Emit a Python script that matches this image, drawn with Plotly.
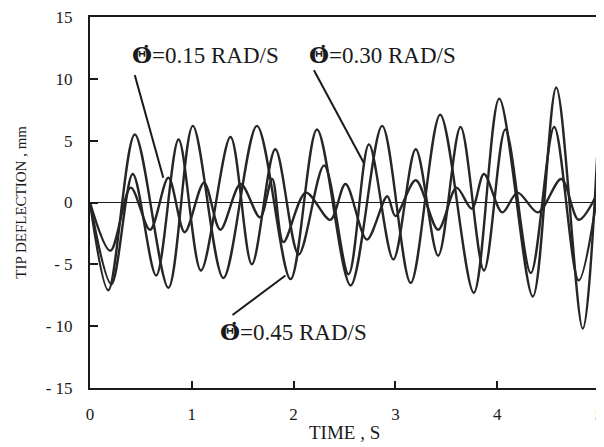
import plotly.graph_objects as go

# Time (s) and tip deflection (mm)
t_a = [0, 0.18, 0.44, 0.77, 1.01, 1.31, 1.64, 1.97, 2.23, 2.56, 2.87, 3.15, 3.44, 3.77, 4.02, 4.35, 4.58, 4.84, 5.0]
v_a = [0, -7.1, 5.5, -6.9, 6.2, -6.1, 6.2, -6.2, 5.9, -6.7, 6.2, -6.5, 7.1, -7.3, 8.4, -7.6, 9.3, -10.2, 6.7]

t_b = [0, 0.21, 0.42, 0.65, 0.87, 1.09, 1.38, 1.59, 1.82, 2.05, 2.3, 2.54, 2.74, 2.98, 3.2, 3.42, 3.64, 3.87, 4.08, 4.33, 4.56, 4.8, 5.0]
v_b = [0, -6.6, 2.3, -5.9, 5.1, -5.5, 5.3, -5.0, 4.3, -4.2, 3.0, -5.8, 4.7, -4.6, 4.3, -4.3, 6.1, -5.5, 5.9, -5.7, 6.1, -6.3, 1.5]

t_c = [0, 0.2, 0.4, 0.59, 0.77, 0.93, 1.12, 1.28, 1.48, 1.67, 1.79, 1.9, 2.12, 2.36, 2.51, 2.72, 2.92, 3.0, 3.2, 3.42, 3.6, 3.75, 3.87, 4.05, 4.2, 4.4, 4.63, 4.8, 5.0]
v_c = [0, -3.9, 1.2, -2.2, 2.0, -2.4, 1.6, -2.2, 1.5, -1.2, 1.9, -3.2, 0.8, -1.4, 1.5, -3.0, 0.5, -1.1, 1.8, -2.2, 1.2, -0.5, 2.3, -0.8, 0.8, -0.8, 1.9, -1.4, 1.0]

x_ticks = [0, 1, 2, 3, 4, 5]
y_ticks = [-15, -10, -5, 0, 5, 10, 15]
y_tick_text = ["- 15", "- 10", "- 5", "0", "5", "10", "15"]

theta = '<span style="font-family:DejaVu Serif"><b>\u0398\u0307</b></span>'
labels = [theta + "=0.15 RAD/S", theta + "=0.30 RAD/S", theta + "=0.45 RAD/S"]
label_pos = [(1.13, 12.0), (2.87, 12.0), (2.0, -10.4)]
leaders = [((0.44, 10.3), (0.72, 2.0)), ((2.2, 10.7), (2.69, 3.2)), ((1.4, -9.1), (1.92, -5.9))]

line_color = "#262626"
fig = go.Figure()
for t, v in [(t_a, v_a), (t_b, v_b), (t_c, v_c)]:
    fig.add_trace(go.Scatter(x=t, y=v, mode="lines", line=dict(color=line_color, width=2.4, shape="spline", smoothing=0.9), showlegend=False))

font_family = "Liberation Serif, Times New Roman, serif"
for txt, (x, y) in zip(labels, label_pos):
    fig.add_annotation(x=x, y=y, text=txt, showarrow=False, font=dict(family=font_family, size=23, color="#1a1a1a"))
for (x0, y0), (x1, y1) in leaders:
    fig.add_shape(type="line", x0=x0, y0=y0, x1=x1, y1=y1, line=dict(color="#1a1a1a", width=2))

# axis titles
fig.add_annotation(xref="paper", yref="paper", x=0.5, y=-0.119, yanchor="middle", text="TIME , S", showarrow=False,
                   font=dict(family=font_family, size=19, color="#1a1a1a"))
fig.add_annotation(xref="paper", yref="paper", x=-0.137, y=0.5, textangle=-90, xanchor="center", text="TIP DEFLECTION , mm",
                   showarrow=False, font=dict(family=font_family, size=15, color="#1a1a1a"))

# the page body adds an 8px offset, so the figure is sized to fit the window
fig.update_layout(
    width=596, height=439,
    margin=dict(l=82, r=5, t=9, b=59, autoexpand=False),
    paper_bgcolor="white", plot_bgcolor="white",
    font=dict(family=font_family, color="#1a1a1a"),
)
fig.update_xaxes(range=[0, 5], tickvals=x_ticks, ticks="inside", ticklen=7, tickwidth=1.5, tickcolor="#1a1a1a",
                 showline=True, linecolor="#1a1a1a", linewidth=2, mirror=True, showgrid=False, zeroline=False,
                 tickfont=dict(size=17), ticklabelstandoff=10, automargin=False, ticklabeloverflow="allow")
fig.update_yaxes(range=[-15, 15], tickvals=y_ticks, ticktext=y_tick_text, ticks="inside", ticklen=8, tickwidth=1.5, tickcolor="#1a1a1a",
                 showline=True, linecolor="#1a1a1a", linewidth=2, mirror=True, showgrid=False,
                 zeroline=True, zerolinecolor="#1a1a1a", zerolinewidth=1.2, automargin=False,
                 tickfont=dict(size=17), ticklabelstandoff=12, ticklabeloverflow="allow")

fig.write_html("out.html")
